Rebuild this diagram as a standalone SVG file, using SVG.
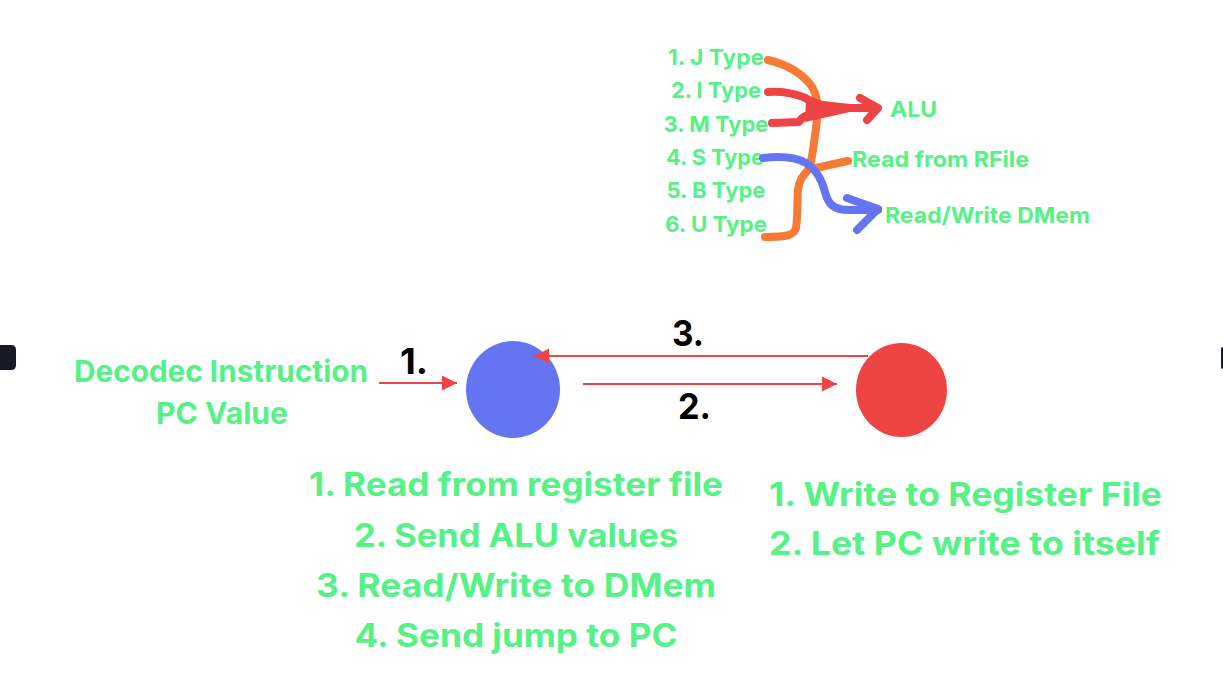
<svg xmlns="http://www.w3.org/2000/svg" width="1223" height="687" viewBox="0 0 1223 687">
<defs>
<style>
.g{fill:#57F287;font-family:Inter,Roboto,"Liberation Sans",sans-serif;font-weight:700}
.t22{font-size:22px}
.t30{font-size:30px}
.t32{font-size:32px}
.num{fill:#000;font-family:Inter,Roboto,"Liberation Sans",sans-serif;font-weight:700;font-size:36px}
.conn{stroke:#EF4444;stroke-width:2.2;fill:none}
.stroke{fill:none;stroke-width:8;stroke-linecap:round;stroke-linejoin:round}
.o{stroke:#F77A35}
.r{stroke:#EF4444}
.b{stroke:#6574F0}
</style>
<marker id="ah" viewBox="0 0 10 10" refX="10" refY="5" markerWidth="7" markerHeight="7" markerUnits="strokeWidth" orient="auto">
<path d="M0,0 L10,5 L0,10 Z" fill="#EF4444"/>
</marker>
</defs>
<rect width="1223" height="687" fill="#fff"/>
<path id="edge-left" d="M0,345 H11 Q16,345 16,350 V365 Q16,370 11,370 H0 Z" fill="#171A24"/>
<rect id="edge-right" x="1221" y="347" width="4" height="22" rx="2" fill="#171A24"/>

<g id="type-list">
<text class="g t22" x="716" y="65" text-anchor="middle" textLength="96" lengthAdjust="spacingAndGlyphs">1. J Type</text>
<text class="g t22" x="716" y="98" text-anchor="middle" textLength="90" lengthAdjust="spacingAndGlyphs">2. I Type</text>
<text class="g t22" x="716" y="132" text-anchor="middle" textLength="105" lengthAdjust="spacingAndGlyphs">3. M Type</text>
<text class="g t22" x="715" y="165" text-anchor="middle" textLength="98" lengthAdjust="spacingAndGlyphs">4. S Type</text>
<text class="g t22" x="716" y="198" text-anchor="middle" textLength="99" lengthAdjust="spacingAndGlyphs">5. B Type</text>
<text class="g t22" x="716" y="232" text-anchor="middle" textLength="102" lengthAdjust="spacingAndGlyphs">6. U Type</text>
</g>
<g id="targets">
<text class="g t22" x="890" y="117" textLength="47" lengthAdjust="spacingAndGlyphs">ALU</text>
<text class="g t22" x="852" y="167" textLength="177" lengthAdjust="spacingAndGlyphs">Read from RFile</text>
<text class="g t22" x="885" y="223" textLength="205" lengthAdjust="spacingAndGlyphs">Read/Write DMem</text>
</g>
<g id="sketch-strokes">
<path class="stroke o" d="M768,60 C785,64 800,72 810,84 C820,96 818,115 815,135 C813,150 812,163 808,170 C803,176 799,180 798,190 C797,200 798,215 796,228 C794,235 788,237 765,237" stroke-width="8.5"/>
<path class="stroke o" d="M812,169 C825,166 838,163 848,161" stroke-width="8.5"/>
<path class="stroke r" d="M768,92 C780,91 792,93 803,97 C812,101 818,105 833,108 L870,108"/>
<path class="stroke r" d="M772,123 L799,122 C802,116 812,112 833,108"/>
<path d="M806,99 L850,104 L850,112 L805,122 Z" fill="#EF4444"/>
<path class="stroke r" d="M860,98 L878,108 L867,120"/>
<path class="stroke b" d="M763,158 C780,156 795,157 806,163 C817,170 822,180 825,192 C828,203 832,210 850,210 L878,210"/>
<path class="stroke b" d="M847,198 L878,209 L857,230"/>
</g>

<g id="input-label">
<text class="g t30" x="221" y="382" text-anchor="middle" textLength="294" lengthAdjust="spacingAndGlyphs">Decodec Instruction</text>
<text class="g t30" x="222" y="424" text-anchor="middle" textLength="132" lengthAdjust="spacingAndGlyphs">PC Value</text>
</g>

<g id="node-decode">
<ellipse cx="513" cy="389.5" rx="47" ry="48.5" fill="#6574F0"/>
<text class="g t32" x="516" y="496" text-anchor="middle" textLength="414" lengthAdjust="spacingAndGlyphs">1. Read from register file</text>
<text class="g t32" x="516" y="547" text-anchor="middle" textLength="324" lengthAdjust="spacingAndGlyphs">2. Send ALU values</text>
<text class="g t32" x="516" y="597" text-anchor="middle" textLength="400" lengthAdjust="spacingAndGlyphs">3. Read/Write to DMem</text>
<text class="g t32" x="516" y="647" text-anchor="middle" textLength="323" lengthAdjust="spacingAndGlyphs">4. Send jump to PC</text>
</g>

<g id="node-write">
<ellipse cx="901.5" cy="390" rx="45.5" ry="47" fill="#EF4444"/>
<text class="g t32" x="769" y="506" textLength="393" lengthAdjust="spacingAndGlyphs">1. Write to Register File</text>
<text class="g t32" x="769" y="555" textLength="391" lengthAdjust="spacingAndGlyphs">2. Let PC write to itself</text>
</g>

<g id="connectors">
<line class="conn" x1="379" y1="383" x2="457" y2="383" marker-end="url(#ah)"/>
<line class="conn" x1="583" y1="384" x2="837" y2="384" marker-end="url(#ah)"/>
<line class="conn" x1="868" y1="356" x2="534" y2="356" marker-end="url(#ah)"/>
<text class="num" x="400" y="374" textLength="28" lengthAdjust="spacingAndGlyphs">1.</text>
<text class="num" x="672" y="346" textLength="32" lengthAdjust="spacingAndGlyphs">3.</text>
<text class="num" x="678" y="419" textLength="33" lengthAdjust="spacingAndGlyphs">2.</text>
</g>
</svg>
